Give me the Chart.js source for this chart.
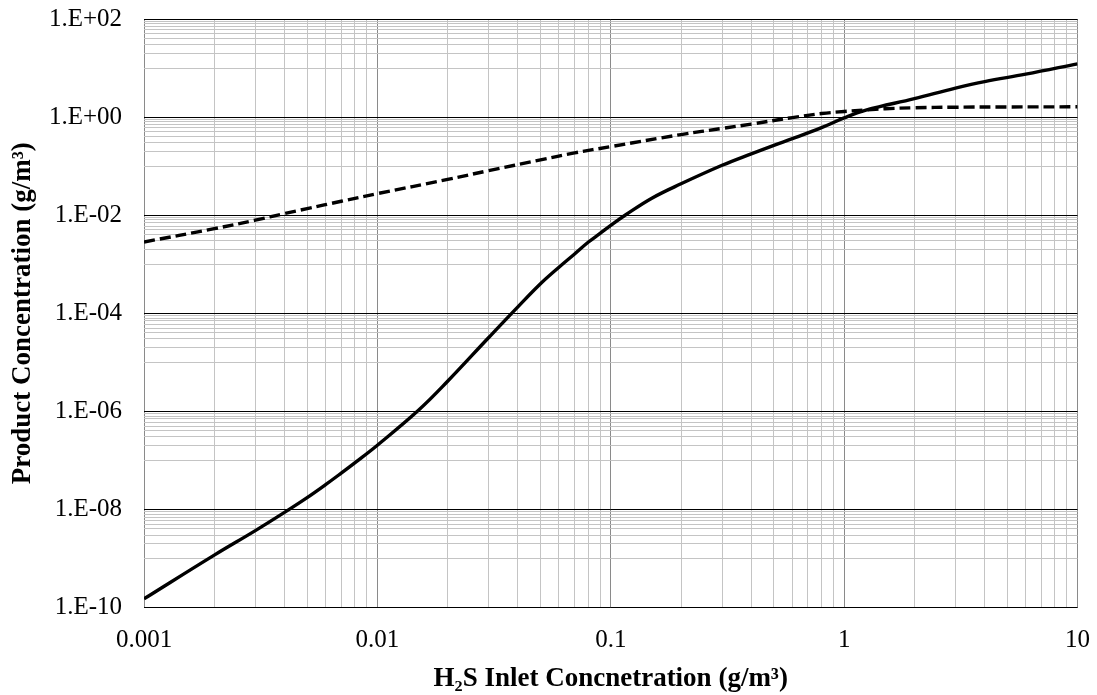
<!DOCTYPE html>
<html><head><meta charset="utf-8">
<script src="https://cdn.jsdelivr.net/npm/chart.js@4"></script>
<style>html,body{margin:0;padding:0;background:#fff;}canvas{display:block;}</style>
</head><body>
<canvas id="c" width="1097" height="695"></canvas>
<script>
// ---- data ----
const solidX = [0.001,0.002,0.003,0.004,0.005,0.006,0.007,0.008,0.01,0.015,0.02,0.03,0.04,0.05,0.06,0.07,0.08,0.09,0.1,0.116,0.15,0.2,0.3,0.4,0.5,0.6,0.8,1,1.24,2,3,4,6,10];
const solidY = [1.5e-10,1.17e-9,3.7e-9,8.7e-9,1.74e-8,3.2e-8,5.5e-8,8.9e-8,2.04e-7,1.05e-6,4.1e-6,3.2e-5,1.35e-4,4.0e-4,8.7e-4,1.62e-3,2.8e-3,4.25e-3,6.2e-3,1.02e-2,0.0222,0.0436,0.104,0.178,0.266,0.363,0.61,0.96,1.38,2.38,3.9,5.3,7.5,12.2];
const dashX = [0.001,0.002,0.003,0.004,0.005,0.007,0.01,0.02,0.03,0.05,0.07,0.1,0.2,0.3,0.4,0.6,0.8,1,1.24,1.5,2,3,5,10];
const dashY = [2.84e-3,5.3e-3,7.9e-3,0.0108,0.0136,0.0192,0.0275,0.0535,0.081,0.134,0.186,0.25,0.44,0.587,0.72,0.976,1.18,1.3,1.4,1.48,1.55,1.59,1.61,1.62];

const xTickValues = [0.001,0.01,0.1,1,10];
const xTickLabels = ['0.001','0.01','0.1','1','10'];
const yTickValues = [1e-10,1e-8,1e-6,1e-4,1e-2,1,100];
const yTickLabels = ['1.E-10','1.E-08','1.E-06','1.E-04','1.E-02','1.E+00','1.E+02'];

const xTitle = 'H\u2082S Inlet Concnetration (g/m\u00B3)';
const yTitle = 'Product Concentration (g/m\u00B3)';

// ---- grid tick construction ----
function xTicks(){
  const t = [];
  xTickValues.forEach((v,i)=>{
    t.push({value:v, isMajor:true, txt:xTickLabels[i]});
    if(i < xTickValues.length-1){ for(let m=2;m<=9;m++) t.push({value:v*m, isMajor:false, txt:''}); }
  });
  return t;
}
function yTicks(){
  const t = [];
  yTickValues.forEach((v,i)=>{
    t.push({value:v, isMajor:true, txt:yTickLabels[i]});
    if(i < yTickValues.length-1){ for(let m=1;m<=9;m++) t.push({value:v*10*m, isMajor:false, txt:''}); }
  });
  return t;
}
function noPad(s){ s.paddingTop = 0; s.paddingBottom = 0; s.paddingLeft = 0; s.paddingRight = 0; }

const serif = "'Liberation Serif','Times New Roman',serif";

new Chart(document.getElementById('c'), {
  type:'line',
  data:{
    datasets:[
      {data: solidX.map((x,i)=>({x, y: solidY[i]})), borderColor:'#000', borderWidth:3.4, pointRadius:0, fill:false, tension:0.4},
      {data: dashX.map((x,i)=>({x, y: dashY[i]})), borderColor:'#000', borderWidth:3.4, borderDash:[11,5], pointRadius:0, fill:false, tension:0.4}
    ]
  },
  options:{
    responsive:false, animation:false, devicePixelRatio:1,
    layout:{padding:{top:19, right:19.5, bottom:0, left:0}},
    plugins:{legend:{display:false}, tooltip:{enabled:false}},
    scales:{
      x:{
        type:'logarithmic', min:0.001, max:10,
        afterBuildTicks:(s)=>{ s.ticks = xTicks(); },
        afterFit:(s)=>{ s.height = 87.5; noPad(s); },
        border:{display:false},
        grid:{drawTicks:false, lineWidth:1, color:(c)=> (c.tick && c.tick.isMajor) ? '#8a8a8a' : '#c4c4c4'},
        ticks:{autoSkip:false, maxRotation:0, padding:18, color:'#000', font:{family:serif, size:25},
          callback:(v,i,t)=> t[i].txt},
        title:{display:true, text:xTitle, color:'#000', font:{family:serif, size:27, weight:'bold'}, padding:{top:0,bottom:0}}
      },
      y:{
        type:'logarithmic', min:1e-10, max:100,
        afterBuildTicks:(s)=>{ s.ticks = yTicks(); },
        afterFit:(s)=>{ s.width = 144; noPad(s); },
        border:{display:false},
        grid:{drawTicks:false, lineWidth:1, color:(c)=> (c.tick && c.tick.isMajor) ? '#000' : '#c4c4c4'},
        ticks:{autoSkip:false, padding:22, color:'#000', font:{family:serif, size:25},
          callback:(v,i,t)=> t[i].txt},
        title:{display:true, text:yTitle, color:'#000', font:{family:serif, size:27, weight:'bold'}, padding:{top:7,bottom:0}}
      }
    }
  }
});
</script>
</body></html>
